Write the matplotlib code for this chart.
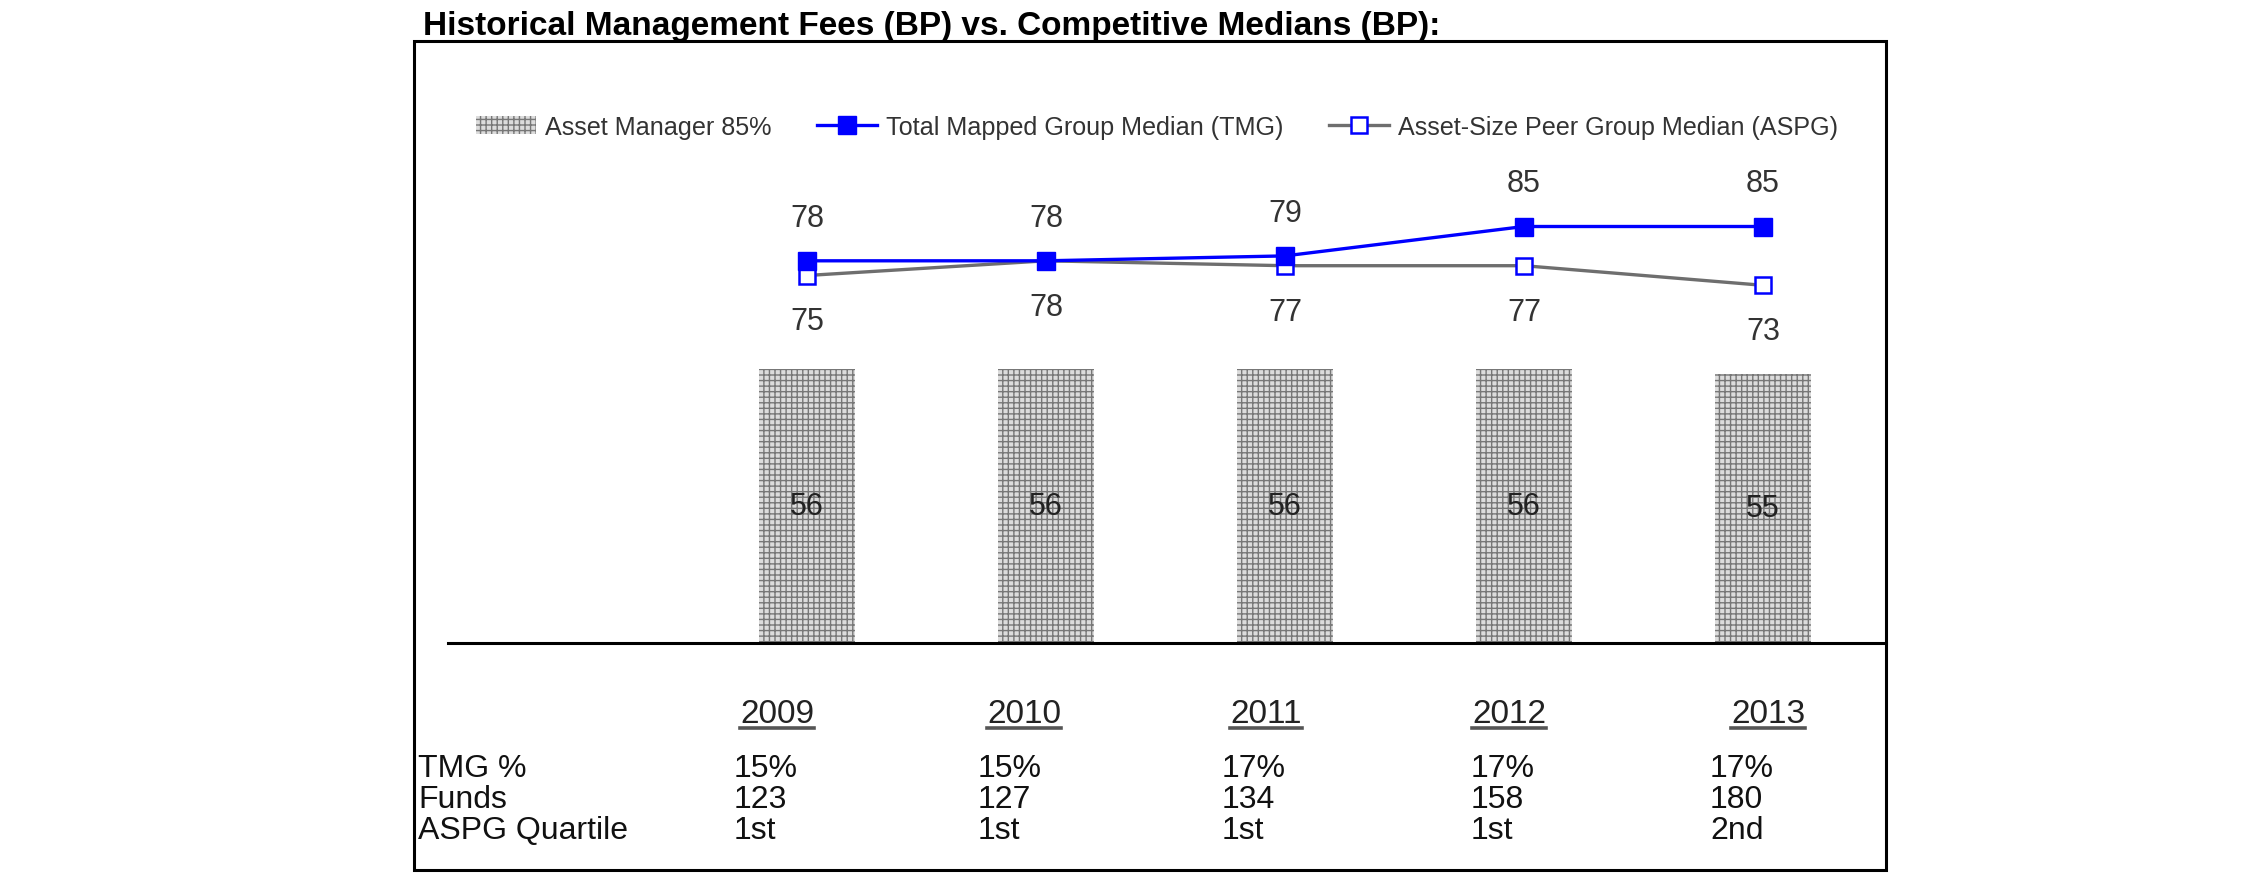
import matplotlib
matplotlib.use('Agg')
import matplotlib.pyplot as plt
from matplotlib.lines import Line2D
from matplotlib.patches import Rectangle
import numpy as np

# ---------------- data ----------------
years = ['2009', '2010', '2011', '2012', '2013']
asset_manager = [56, 56, 56, 56, 55]
tmg_median = [78, 78, 79, 85, 85]
aspg_median = [75, 78, 77, 77, 73]
tmg_pct = ['15%', '15%', '17%', '17%', '17%']
funds = ['123', '127', '134', '158', '180']
aspg_quartile = ['1st', '1st', '1st', '1st', '2nd']
row_labels = ['TMG %', 'Funds', 'ASPG Quartile']
series_names = ['Asset Manager 85%', 'Total Mapped Group Median (TMG)',
                'Asset-Size Peer Group Median (ASPG)']
title = 'Historical Management Fees (BP) vs. Competitive Medians (BP):'

# ---------------- layout ----------------
W, H = 2250, 895
plt.rcParams['font.family'] = ['Liberation Sans', 'DejaVu Sans']
plt.rcParams['hatch.linewidth'] = 1.0

fig = plt.figure(figsize=(W / 100, H / 100), dpi=100)


def fx(px):
    return px / W


def fy(py):
    return 1 - py / H


# outer frame
fig.add_artist(Rectangle((fx(414), fy(871)), fx(1886) - fx(414), fy(42) - fy(871),
                         transform=fig.transFigure, fill=False, lw=2.2, ec='black'))

# title
fig.text(fx(423), fy(35), title, fontsize=24, fontweight='bold', va='baseline',
         ha='left', color='black')

ax = fig.add_axes([fx(448), fy(644), fx(1886) - fx(448), (644 - 154) / H])
x = np.arange(len(years))
ax.set_xlim(-1.502, 4.515)
ax.set_ylim(0, 100)

bars = ax.bar(x, asset_manager, width=0.40, color='#dcdcdc', edgecolor='#777777',
              linewidth=0, hatch='+++', zorder=1, label=series_names[0])
l_aspg, = ax.plot(x, aspg_median, color='#6e6e6e', lw=2.4, marker='s', ms=12,
                  mfc='white', mec='#0000ff', mew=1.8, zorder=3, label=series_names[2])
l_tmg, = ax.plot(x, tmg_median, color='#0000ff', lw=2.4, marker='s', ms=13,
                 mfc='#0000ff', mec='#0000ff', zorder=4, label=series_names[1])

for i, v in enumerate(tmg_median):
    ax.annotate(str(v), (x[i], v), xytext=(0, 31), textcoords='offset points',
                ha='center', va='center', fontsize=22, color='#333333')
for i, v in enumerate(aspg_median):
    ax.annotate(str(v), (x[i], v), xytext=(0, -33), textcoords='offset points',
                ha='center', va='center', fontsize=22, color='#333333')
for i, v in enumerate(asset_manager):
    ax.text(x[i], v / 2, str(v), ha='center', va='center', fontsize=22,
            color='#222222', zorder=5)

for s in ['top', 'left', 'right']:
    ax.spines[s].set_visible(False)
ax.spines['bottom'].set_linewidth(2.2)
ax.spines['bottom'].set_color('black')
ax.set_xticks([])
ax.set_yticks([])
ax.patch.set_alpha(0)

fig.legend(handles=[bars, l_tmg, l_aspg], labels=series_names, loc='center left',
           bbox_to_anchor=(fx(476), fy(128)), ncol=3, frameon=False, fontsize=18.1,
           handlelength=2.4, handletextpad=0.35, columnspacing=1.8, borderpad=0,
           borderaxespad=0, labelcolor='#333333')

# year headers (underlined)
year_cx = [777, 1024, 1266, 1509, 1768]
year_texts = []
for cx, yr in zip(year_cx, years):
    t = fig.text(fx(cx), fy(723), yr, ha='center', va='baseline', fontsize=24,
                 color='#222222')
    year_texts.append(t)

# table rows
row_base = [777, 808, 839]
col_x = [734, 978, 1222, 1471, 1710]
rows = [tmg_pct, funds, aspg_quartile]
for lab, yb, vals in zip(row_labels, row_base, rows):
    fig.text(fx(418), fy(yb), lab, ha='left', va='baseline', fontsize=23,
             color='#111111')
    for cx, v in zip(col_x, vals):
        fig.text(fx(cx), fy(yb), v, ha='left', va='baseline', fontsize=23,
                 color='#111111')

fig.canvas.draw()
r = fig.canvas.get_renderer()
for t in year_texts:
    bb = t.get_window_extent(r)
    yline = fy(729)
    fig.add_artist(Line2D([bb.x0 / W, bb.x1 / W], [yline, yline],
                          transform=fig.transFigure, color='#555555', lw=2.6))

fig.savefig('out.png', dpi=100)
